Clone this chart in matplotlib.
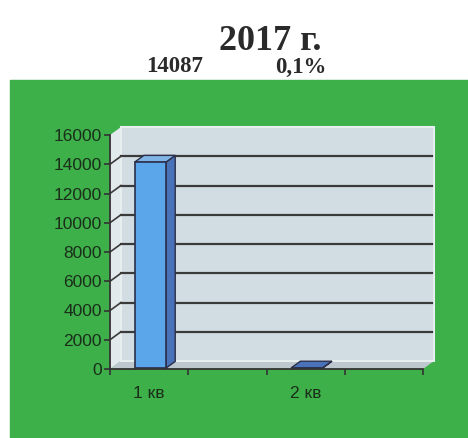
import matplotlib
matplotlib.use("Agg")
import matplotlib.pyplot as plt
import matplotlib.patches as patches
from matplotlib.transforms import ScaledTranslation
import numpy as np

# Данные диаграммы
quarters = ["1 кв", "", "2 кв", ""]
values = [14087, np.nan, 14, np.nan]
title = "2017 г."
total_label = "14087"
share_label = "0,1%"
y_ticks = list(range(0, 16001, 2000))

# Цвета
GREEN = "#3db049"
WALL = "#d2dde3"
SIDE_WALL = "#e2e9ec"
FLOOR = "#bcc8cd"
GRID = "#3a3a3a"
BAR_FRONT = "#5ba6ea"
BAR_SIDE = "#4a72b8"
BAR_TOP = "#80b4e6"
BAR_EDGE = "#2b2f4a"
TEXT = "#1a2e1a"

W, H, DPI = 468, 438, 100
DX, DY = 11, 8  # смещение глубины (пиксели)

fig = plt.figure(figsize=(W / DPI, H / DPI), dpi=DPI)
fig.patch.set_facecolor("white")

# Зелёная подложка
fig.add_artist(patches.Rectangle((10 / W, 0), 1, (H - 80) / H,
                                 transform=fig.transFigure, color=GREEN, zorder=-10))

ax = fig.add_axes([110 / W, (H - 369) / H, (423 - 110) / W, (369 - 135) / H])
ax.set_xlim(-0.5, len(quarters) - 0.5)
ax.set_ylim(0, y_ticks[-1])
ax.patch.set_visible(False)
xmin, xmax = ax.get_xlim()
ymax = y_ticks[-1]


def shift(f):
    return ax.transData + ScaledTranslation(DX * f / DPI, DY * f / DPI, fig.dpi_scale_trans)


def pt(x, y, f):
    d = shift(f).transform((x, y))
    return ax.transData.inverted().transform(d)


def poly(points, **kw):
    ax.add_patch(patches.Polygon(points, closed=True, clip_on=False, **kw))


# Стены и пол
poly([pt(xmin, 0, 0), pt(xmin, ymax, 0), pt(xmin, ymax, 1), pt(xmin, 0, 1)],
     facecolor=SIDE_WALL, edgecolor="none", zorder=0)
poly([pt(xmin, 0, 0), pt(xmax, 0, 0), pt(xmax, 0, 1), pt(xmin, 0, 1)],
     facecolor=FLOOR, edgecolor="none", zorder=0)
ax.add_patch(patches.Rectangle((xmin, 0), xmax - xmin, ymax, transform=shift(1),
                               facecolor=WALL, edgecolor="#e6eeee", lw=1.5,
                               clip_on=False, zorder=0))

# Сетка на задней и боковой стенах
for y in y_ticks[1:-1]:
    ax.plot([xmin, xmax - 0.03], [y, y], color=GRID, lw=1.6, transform=shift(1),
            clip_on=False, zorder=1)
    a, b = pt(xmin, y, 0), pt(xmin, y, 1)
    ax.plot([a[0], b[0]], [a[1], b[1]], color=GRID, lw=1.2, clip_on=False, zorder=1)

# Столбцы
f0, f1 = 0.1, 0.95
bw = 0.4
for i, v in enumerate(values):
    if np.isnan(v):
        continue
    x0, x1 = i - bw / 2, i + bw / 2
    poly([pt(x1, 0, f0), pt(x1, v, f0), pt(x1, v, f1), pt(x1, 0, f1)],
         facecolor=BAR_SIDE, edgecolor=BAR_EDGE, lw=1.0, zorder=3)
    poly([pt(x0, v, f0), pt(x1, v, f0), pt(x1, v, f1), pt(x0, v, f1)],
         facecolor=BAR_TOP if v > 1000 else BAR_SIDE, edgecolor=BAR_EDGE, lw=1.0, zorder=3)
    ax.bar(i, v, width=bw, transform=shift(f0), color=BAR_FRONT,
           edgecolor=BAR_EDGE, lw=1.2, clip_on=False, zorder=4)

# Оси
for s in ["top", "right"]:
    ax.spines[s].set_visible(False)
for s in ["left", "bottom"]:
    ax.spines[s].set_color("#333333")
    ax.spines[s].set_linewidth(1.3)
    ax.spines[s].set_zorder(5)

ax.set_yticks(y_ticks)
ax.set_yticklabels([str(t) for t in y_ticks])
ax.set_xticks(range(len(quarters)))
ax.set_xticklabels(quarters)
ax.set_xticks(np.arange(xmin, xmax + 0.01, 1), minor=True)
ax.tick_params(axis="y", length=4, width=1.2, color="#333333", pad=2,
               labelsize=12.5, labelcolor=TEXT)
ax.tick_params(axis="x", which="major", length=0, pad=12, labelsize=12.5, labelcolor=TEXT)
ax.tick_params(axis="x", which="minor", length=4, width=1.2, color="#333333")
for lab in ax.get_xticklabels() + ax.get_yticklabels():
    lab.set_family("Liberation Sans")

# Заголовки
fig.text(270 / W, 1 - 42 / H, title, ha="center", va="center",
         family="Liberation Serif", fontweight="bold", fontsize=26, color="#2a2a2a")
fig.text(175 / W, 1 - 67 / H, total_label, ha="center", va="center",
         family="Liberation Serif", fontweight="bold", fontsize=16.5, color="#2a2a2a")
fig.text(301 / W, 1 - 67 / H, share_label, ha="center", va="center",
         family="Liberation Serif", fontweight="bold", fontsize=16.5, color="#2a2a2a")

fig.savefig("out.png", dpi=DPI)
